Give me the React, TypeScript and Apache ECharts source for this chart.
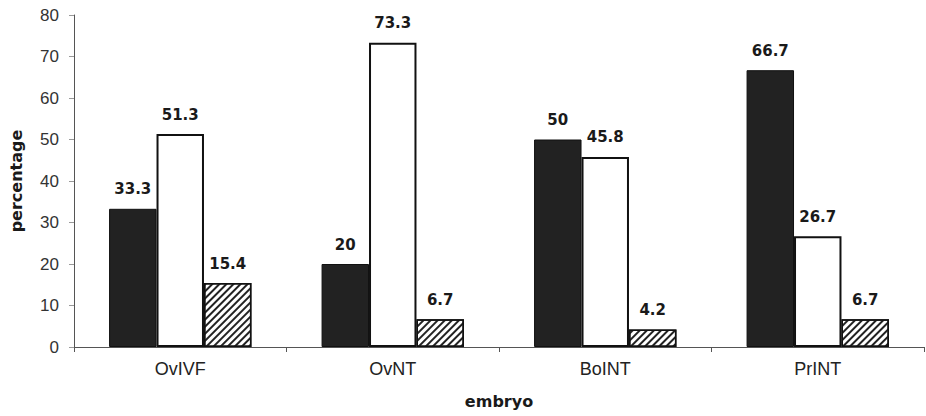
import React, { useEffect, useRef } from "react";
import * as echarts from "echarts";

const categories = ["OvIVF", "OvNT", "BoINT", "PrINT"];
const blackValues = [33.3, 20, 50, 66.7];
const whiteValues = [51.3, 73.3, 45.8, 26.7];
const hatchValues = [15.4, 6.7, 4.2, 6.7];
const yTicks = { min: 0, max: 80, interval: 10 };

const FONT = "'Liberation Sans', Arial, sans-serif";
const BOLD = "'DejaVu Sans', sans-serif";

export default function App() {
  const ref = useRef<HTMLDivElement>(null);
  useEffect(() => {
    if (!ref.current) return;
    const chart = echarts.init(ref.current, undefined, { renderer: "svg" });
    const label = {
      show: true,
      position: "top" as const,
      distance: 12,
      fontFamily: BOLD,
      fontWeight: "bold" as const,
      fontSize: 15,
      color: "#1a1a1a",
    };
    chart.setOption({
      animation: false,
      backgroundColor: "#fff",
      grid: { left: 70, right: 2, top: 15, bottom: 69, containLabel: false },
      xAxis: {
        type: "category",
        data: categories,
        name: "embryo",
        nameLocation: "middle",
        nameGap: 46,
        nameTextStyle: { fontFamily: BOLD, fontWeight: "bold", fontSize: 16, color: "#1a1a1a" },
        axisLine: { lineStyle: { color: "#555", width: 1 } },
        axisTick: { show: true, length: 5, lineStyle: { color: "#555" } },
        axisLabel: { fontFamily: FONT, fontSize: 18, color: "#222", margin: 13 },
      },
      yAxis: {
        type: "value",
        min: yTicks.min,
        max: yTicks.max,
        interval: yTicks.interval,
        name: "percentage",
        nameLocation: "middle",
        nameGap: 50,
        nameTextStyle: { fontFamily: BOLD, fontWeight: "bold", fontSize: 16, color: "#1a1a1a" },
        axisLine: { show: true, lineStyle: { color: "#555", width: 1 } },
        axisTick: { show: true, length: 5, lineStyle: { color: "#999" } },
        axisLabel: { fontFamily: FONT, fontSize: 17, color: "#333", margin: 15 },
        splitLine: { show: false },
      },
      series: [
        {
          type: "bar",
          data: blackValues,
          barGap: "0%",
          barCategoryGap: "33%",
          itemStyle: { color: "#222", borderColor: "#111", borderWidth: 1 },
          label,
        },
        {
          type: "bar",
          data: whiteValues,
          barGap: "0%",
          barCategoryGap: "33%",
          itemStyle: { color: "#fff", borderColor: "#111", borderWidth: 2 },
          label,
        },
        {
          type: "bar",
          data: hatchValues,
          barGap: "0%",
          barCategoryGap: "33%",
          itemStyle: {
            color: "#fff",
            borderColor: "#111",
            borderWidth: 1.5,
            decal: {
              symbol: "rect",
              symbolSize: 1,
              dashArrayX: [1, 0],
              dashArrayY: [1.2, 2.2],
              rotation: -Math.PI / 4,
              color: "#222",
            },
          },
          label,
        },
      ],
    });
    return () => chart.dispose();
  }, []);
  return <div ref={ref} style={{ width: 926, height: 416, position: "absolute", left: 0, top: 0 }} />;
}
